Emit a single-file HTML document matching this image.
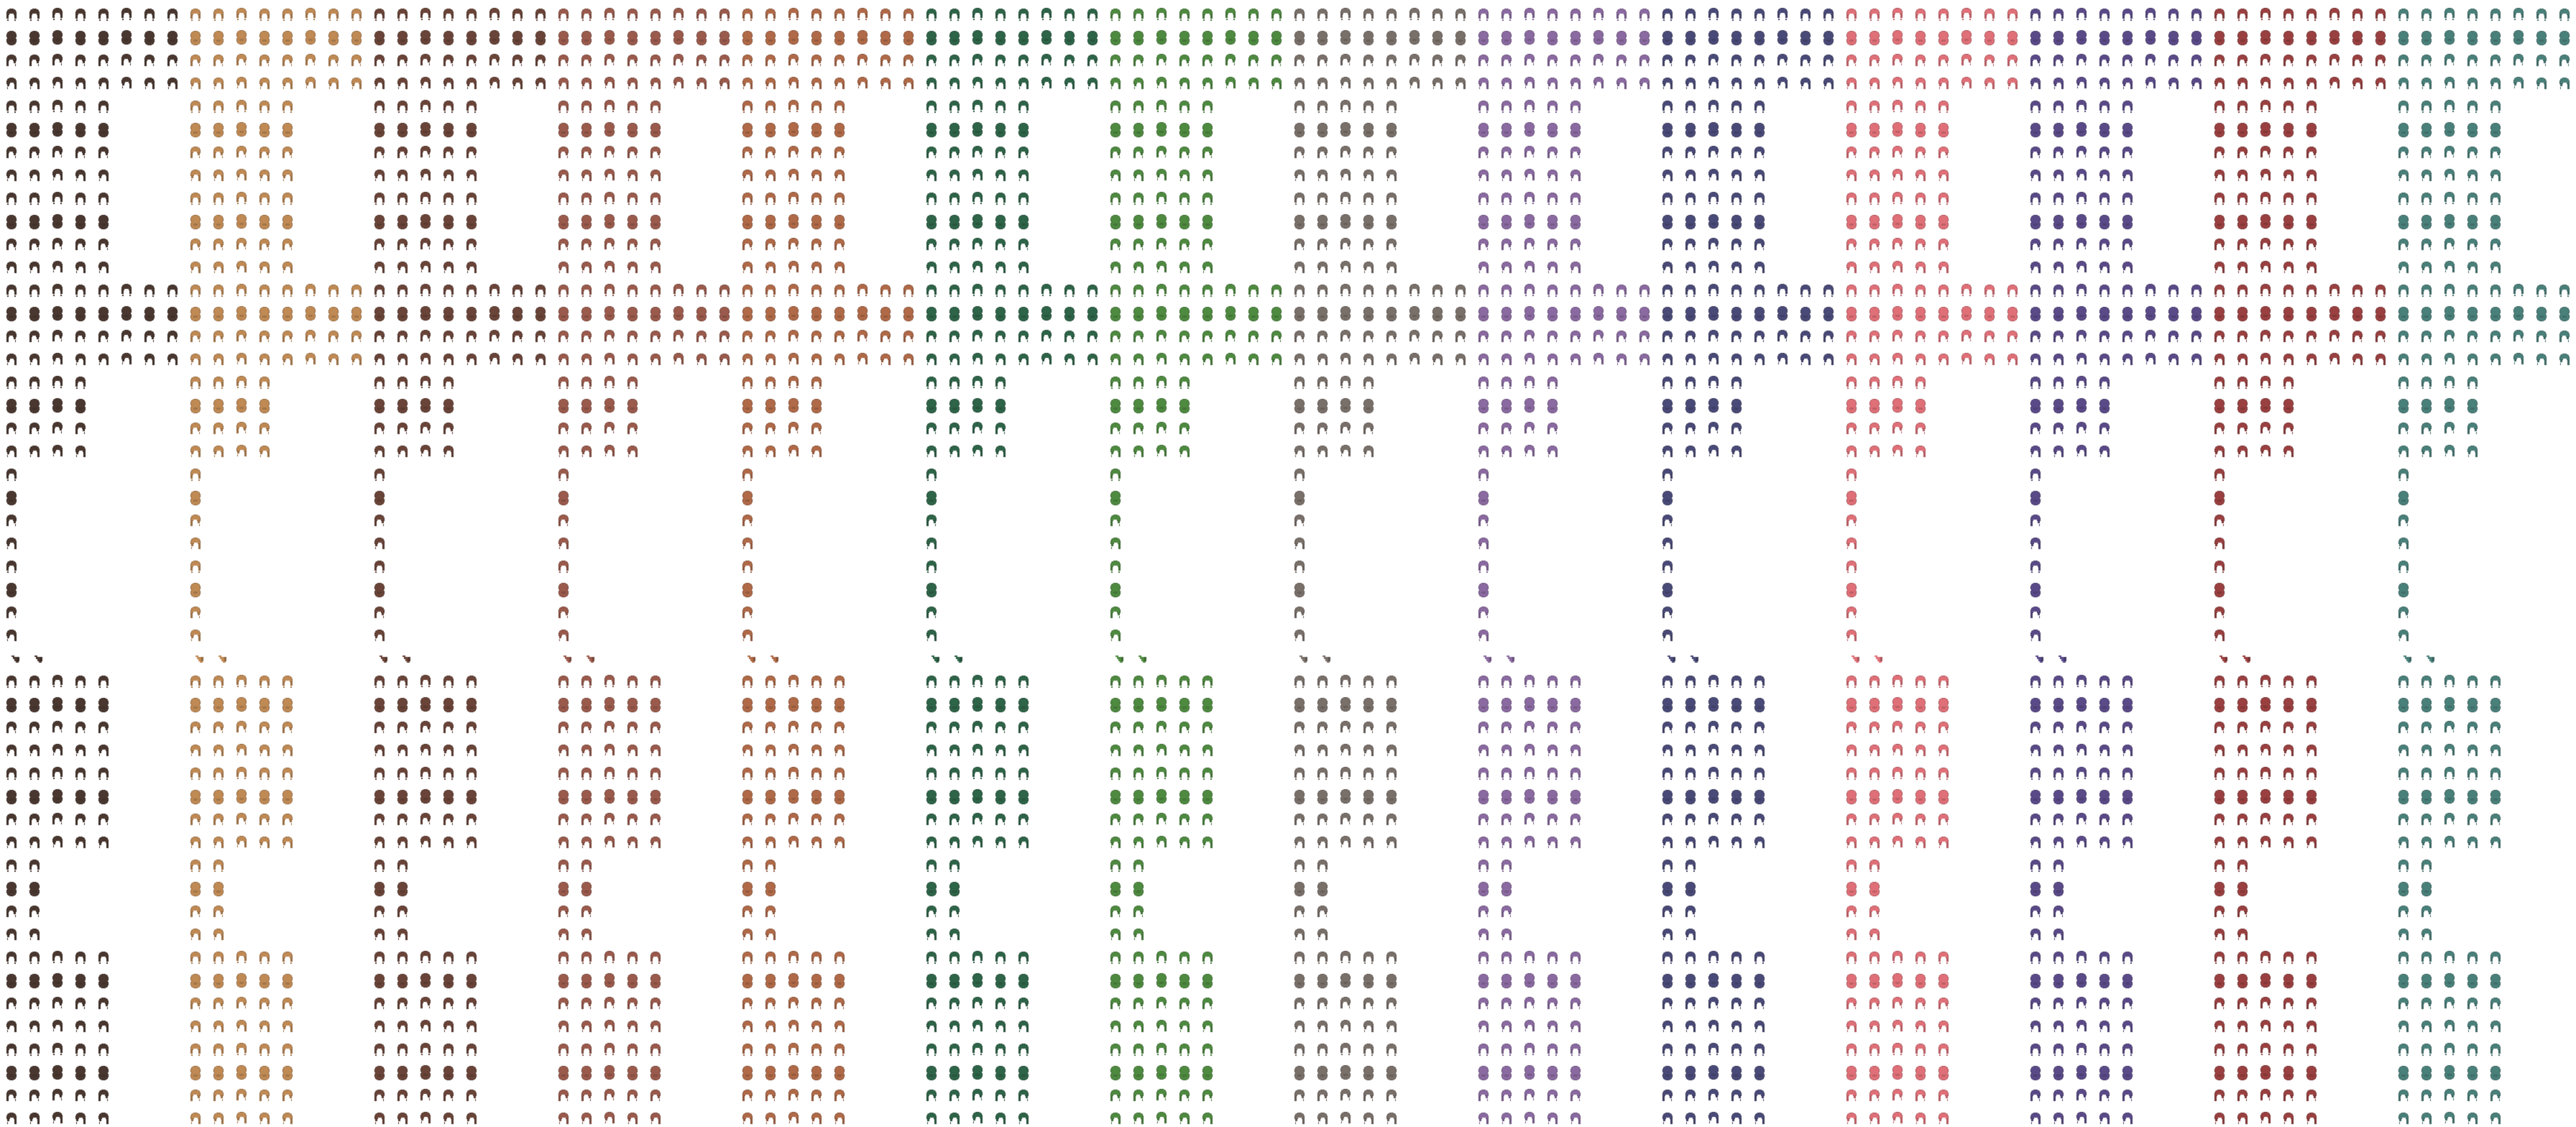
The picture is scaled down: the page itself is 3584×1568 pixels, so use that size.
<!DOCTYPE html>
<html><head><meta charset="utf-8">
<style>html,body{margin:0;padding:0;background:#fff;width:3584px;height:1568px;overflow:hidden}canvas{display:block}</style>
</head><body><canvas id="c" width="3584" height="1568"></canvas>
<script>
const cv=document.getElementById('c'),x=cv.getContext('2d');
x.fillStyle='#fff';x.fillRect(0,0,3584,1568);
const cols=['#4a3830','#c08a55','#6a4438','#9a5a4c','#b06a48','#2e6448','#4e8a40','#7a706a','#8a6aa0','#4a4a78','#e07078','#5a4a88','#9a4040','#4a807a'];
function shade(h,f){let n=parseInt(h.slice(1),16);let r=(n>>16)&255,g=(n>>8)&255,b=n&255;r=Math.round(r*f);g=Math.round(g*f);b=Math.round(b*f);return 'rgb('+Math.min(255,r)+','+Math.min(255,g)+','+Math.min(255,b)+')';}
function P(px,py,w,h){x.fillRect(px,py,w,h);}
const ov=[3,5,6,6,7,7,7,7,7,6,6,7,7,7,7,7,6,6,5,3];
function back(X,Y,c){x.fillStyle=shade(c,0.75);for(let i=0;i<20;i++){P(X+7-ov[i],Y+i,ov[i]*2,1);}x.fillStyle=c;for(let i=1;i<19;i++){let w=ov[i]-1;if(w>0)P(X+7-w,Y+i,w*2,1);}x.fillStyle=shade(c,0.85);P(X+4,Y+12,6,3);}
function dome(X,Y,c){x.fillStyle=shade(c,0.75);for(let i=0;i<9;i++){P(X+7-ov[i],Y+i,ov[i]*2,1);}x.fillStyle=c;for(let i=1;i<8;i++){let w=ov[i]-1;P(X+7-w,Y+i,w*2,1);}}
function front(X,Y,c){dome(X,Y,c);x.fillStyle=shade(c,0.8);P(X,Y+8,3,6);P(X+11,Y+8,3,6);P(X+1,Y+15,2,2);P(X+11,Y+15,2,2);x.fillStyle='#fff';P(X+4,Y+7,6,2);}
function sideL(X,Y,c){dome(X,Y,c);x.fillStyle=shade(c,0.8);P(X,Y+8,3,8);P(X+10,Y+8,3,4);P(X+12,Y+13,1,3);x.fillStyle='#fff';P(X+4,Y+7,5,2);}
function sideR(X,Y,c){dome(X,Y,c);x.fillStyle=shade(c,0.8);P(X+11,Y+8,3,8);P(X+1,Y+8,3,4);P(X+1,Y+13,1,3);x.fillStyle='#fff';P(X+5,Y+7,5,2);}
function wedge(X,Y,c){x.fillStyle=c;P(X+1,Y+1,4,2);P(X+3,Y+3,8,3);P(X+5,Y+6,7,3);P(X+7,Y+9,4,2);x.fillStyle=shade(c,0.75);P(X+9,Y+3,3,6);}
const counts=[];
for(let r=0;r<49;r++){let n;
 if(r<4)n=8;else if(r<12)n=5;else if(r<16)n=8;else if(r<20)n=4;else if(r<28)n=1;else if(r==28)n=2;else if(r<37)n=5;else if(r<41)n=2;else n=5;counts.push(n);}
function typeOf(r){if(r==28)return 'w';let b=r<28?r:r-29;const t=['f','b','l','r'];return t[b%4];}
for(let g=0;g<14;g++){const c=cols[g];
 for(let r=0;r<49;r++){const n=counts[r];const t=typeOf(r);
  for(let k=0;k<n;k++){const X=g*256+k*32+9,Y=r*32+(t=='b'?11:12)+((k%3==2)?-1:0);
   if(t=='w')wedge(g*256+k*32+15,r*32+15,c);else if(t=='b')back(X,Y,c);else if(t=='f')front(X,Y,c);else if(t=='l')sideL(X,Y,c);else sideR(X,Y,c);}}}
</script></body></html>
